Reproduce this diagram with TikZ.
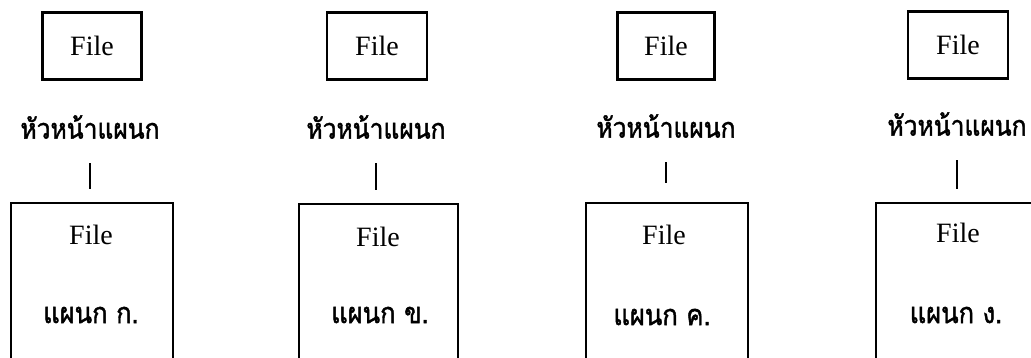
\documentclass[tikz,border=0pt]{standalone}
\usepackage{fontspec}
\setmainfont{Liberation Serif}
\newfontfamily\thaifont[Script=Thai,FakeStretch=0.88,FakeBold=1.5]{Loma}
\begin{document}
\begin{tikzpicture}[x=1pt,y=-1pt,
  topbox/.style={draw,line width=2.4pt,minimum width=#1,minimum height=67pt,inner sep=0pt,font=\fontsize{28}{32}\selectfont},
  headlbl/.style={inner sep=0pt,minimum height=30pt,font=\thaifont\fontsize{28}{32}\selectfont},
  deptbox/.style={draw,line width=2.4pt,inner sep=0pt,anchor=north west},
  filetxt/.style={inner sep=0pt,font=\fontsize{28}{32}\selectfont},
  depttxt/.style={inner sep=0pt,font=\thaifont\fontsize{29}{32}\selectfont},
  conn/.style={line width=2pt,shorten <=21pt,shorten >=13pt}]
\useasboundingbox (0,0) rectangle (1031,358);
\clip (0,0) rectangle (1031,358);
% column 1
\node[topbox=99pt] (f1) at (92,46) {File};
\node[headlbl] (h1) at (90,127) {หัวหน้าแผนก};
\node[deptbox,minimum width=162pt,minimum height=190pt] (d1) at (10,202) {};
\node[filetxt] (t1) at (91,235) {File};
\node[depttxt] (n1) at (91,315) {แผนก ก.};
\draw[conn] (h1) -- (h1 |- d1.north);
% column 2
\node[topbox=100pt] (f2) at (377,46) {File};
\node[headlbl] (h2) at (376,127) {หัวหน้าแผนก};
\node[deptbox,minimum width=159pt,minimum height=190pt] (d2) at (298,203) {};
\node[filetxt] (t2) at (378,237) {File};
\node[depttxt] (n2) at (380,315) {แผนก ข.};
\draw[conn] (h2) -- (h2 |- d2.north);
% column 3
\node[topbox=97pt] (f3) at (666,46) {File};
\node[headlbl] (h3) at (666,126) {หัวหน้าแผนก};
\node[deptbox,minimum width=162pt,minimum height=190pt] (d3) at (585,202) {};
\node[filetxt] (t3) at (664,235) {File};
\node[depttxt] (n3) at (662,317) {แผนก ค.};
\draw[conn,shorten >=19pt] (h3) -- (h3 |- d3.north);
% column 4
\node[topbox=100pt] (f4) at (958,45) {File};
\node[headlbl] (h4) at (957,124) {หัวหน้าแผนก};
\node[deptbox,minimum width=200pt,minimum height=190pt] (d4) at (875,202) {};
\node[filetxt] (t4) at (958,233) {File};
\node[depttxt] (n4) at (956,315) {แผนก ง.};
\draw[conn] (h4) -- (h4 |- d4.north);
\end{tikzpicture}
\end{document}
